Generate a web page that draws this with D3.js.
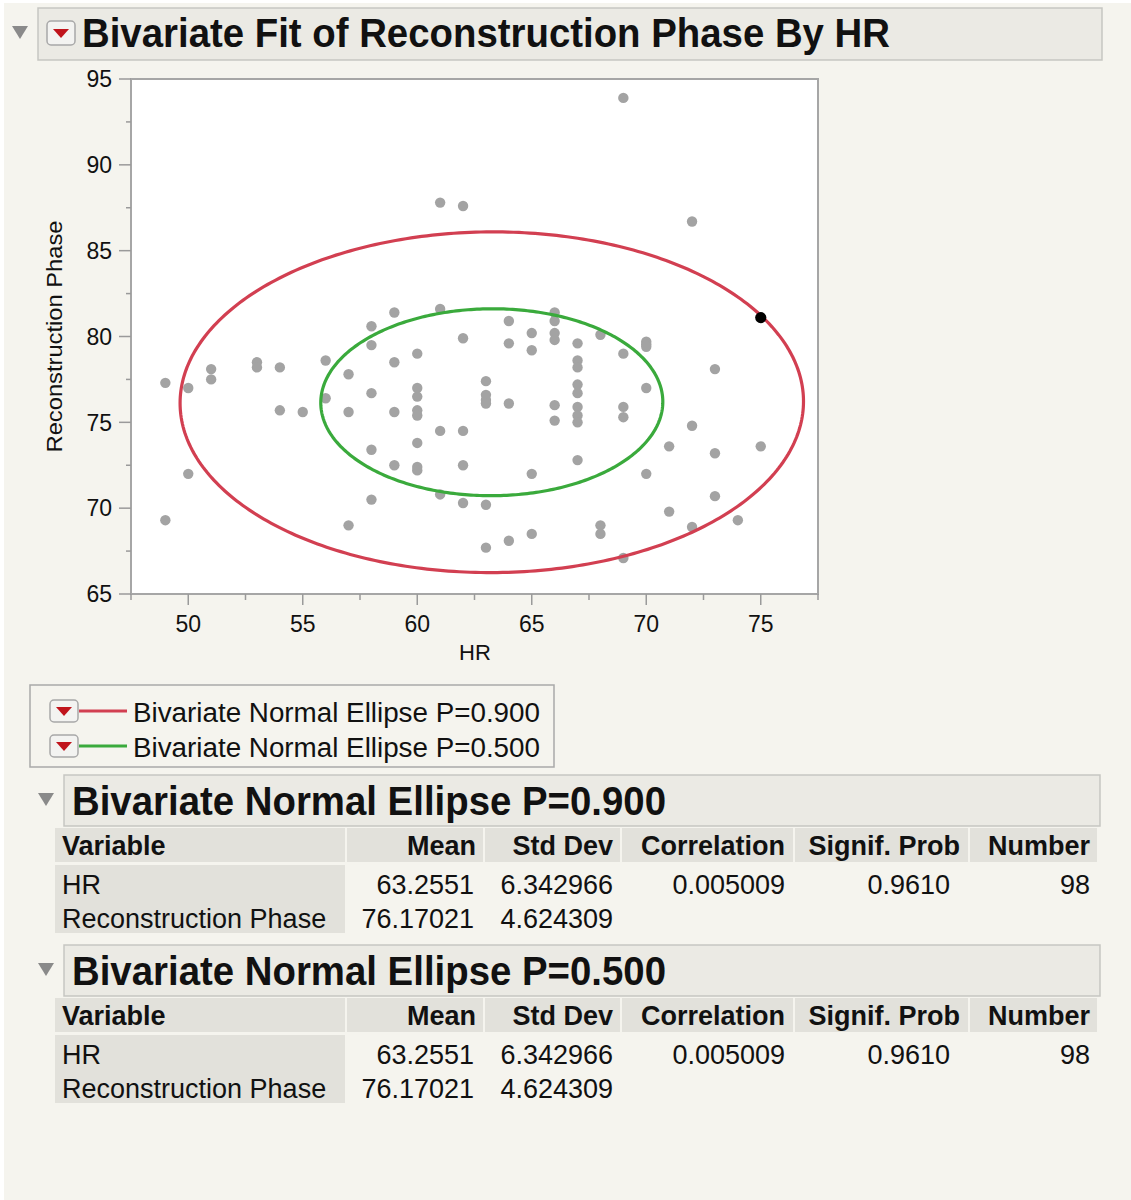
<!DOCTYPE html>
<html>
<head>
<meta charset="utf-8">
<script src="https://cdn.jsdelivr.net/npm/d3@7"></script>
<style>
  html, body { margin: 0; padding: 0; background: #ffffff; }
  svg { display: block; }
  text { font-family: "Liberation Sans", Arial, Helvetica, sans-serif; fill: #111; }
</style>
</head>
<body>
<svg id="chart" width="1131" height="1200"></svg>
<script>
// ---------------- data ----------------
const title = "Bivariate Fit of Reconstruction Phase By HR";
const xLabel = "HR";
const yLabel = "Reconstruction Phase";

const hrValues = [
  49, 49,
  50, 50,
  51, 51,
  53, 53,
  54, 54,
  55,
  56, 56,
  57, 57, 57,
  58, 58, 58, 58, 58,
  59, 59, 59, 59,
  60, 60, 60, 60, 60, 60, 60, 60,
  61, 61, 61, 61,
  62, 62, 62, 62, 62,
  63, 63, 63, 63, 63, 63,
  64, 64, 64, 64,
  65, 65, 65, 65,
  66, 66, 66, 66, 66, 66,
  67, 67, 67, 67, 67, 67, 67, 67, 67,
  68, 68, 68,
  69, 69, 69, 69, 69,
  70, 70, 70, 70, 70,
  71, 71,
  72, 72, 72,
  73, 73, 73,
  74,
  75, 75
];
const rpValues = [
  77.3, 69.3,
  77.0, 72.0,
  78.1, 77.5,
  78.5, 78.2,
  78.2, 75.7,
  75.6,
  78.6, 76.4,
  77.8, 75.6, 69.0,
  80.6, 79.5, 76.7, 73.4, 70.5,
  81.4, 78.5, 75.6, 72.5,
  79.0, 77.0, 76.5, 75.7, 75.4, 73.8, 72.4, 72.2,
  87.8, 81.6, 74.5, 70.8,
  87.6, 79.9, 74.5, 72.5, 70.3,
  77.4, 76.6, 76.3, 76.1, 70.2, 67.7,
  80.9, 79.6, 76.1, 68.1,
  80.2, 79.2, 72.0, 68.5,
  81.4, 80.9, 80.2, 79.8, 76.0, 75.1,
  79.6, 78.6, 78.2, 77.2, 76.7, 75.9, 75.4, 75.0, 72.8,
  80.1, 69.0, 68.5,
  93.9, 79.0, 75.9, 75.3, 67.1,
  79.7, 79.55, 79.4, 77.0, 72.0,
  73.6, 69.8,
  86.7, 74.8, 68.9,
  78.1, 73.2, 70.7,
  69.3,
  81.1, 73.6
];
const selectedRows = [93];   // highlighted (black) row

const xTicks = [50, 55, 60, 65, 70, 75];
const yTicks = [65, 70, 75, 80, 85, 90, 95];

// summary statistics (from the report tables)
const statVariables = ["HR", "Reconstruction Phase"];
const statMeans = [63.2551, 76.17021];
const statStdDevs = [6.342966, 4.624309];
const statMeanText = ["63.2551", "76.17021"];
const statStdText = ["6.342966", "4.624309"];
const correlation = 0.005009;
const correlationText = "0.005009";
const signifProbText = "0.9610";
const numberText = "98";
const tableColumns = ["Variable", "Mean", "Std Dev", "Correlation", "Signif. Prob", "Number"];

const ellipseP = [0.900, 0.500];
const ellipseLabels = ["Bivariate Normal Ellipse P=0.900", "Bivariate Normal Ellipse P=0.500"];
const ellipseColors = ["#d23f51", "#3aaa3c"];

// ---------------- drawing ----------------
const svg = d3.select("#chart");
const bg = "#f5f4ee";
const barFill = "#ebeae4";
const barStroke = "#c6c6c2";
const cellFill = "#e2e1db";

svg.append("rect").attr("x", 4).attr("y", 3).attr("width", 1127).attr("height", 1197).attr("fill", bg);

function disclosure(cx, cy) {
  svg.append("path")
    .attr("d", `M${cx-8},${cy-6} L${cx+8},${cy-6} L${cx},${cy+7} Z`)
    .attr("fill", "#8a8a8a");
}
function dropdown(x, y, w, h) {
  const g = svg.append("g");
  g.append("rect").attr("x", x).attr("y", y).attr("width", w).attr("height", h)
    .attr("rx", 4).attr("fill", "#f3f3f1").attr("stroke", "#a8a8a8").attr("stroke-width", 1.5);
  const cx = x + w / 2, cy = y + h / 2;
  g.append("path").attr("d", `M${cx-8},${cy-4} L${cx+8},${cy-4} L${cx},${cy+5} Z`).attr("fill", "#c0141c");
}

// main header
svg.append("rect").attr("x", 38).attr("y", 8).attr("width", 1064).attr("height", 52)
  .attr("fill", barFill).attr("stroke", barStroke).attr("stroke-width", 1.5);
disclosure(20, 32);
dropdown(47, 21, 28, 24);
svg.append("text").attr("x", 82).attr("y", 47).text(title)
  .style("font-size", "40px").style("font-weight", "bold")
  .attr("textLength", 808).attr("lengthAdjust", "spacingAndGlyphs");

// plot
const plotL = 131, plotR = 818, plotT = 79, plotB = 594;
const x = d3.scaleLinear().domain([47.5, 77.5]).range([plotL, plotR]);
const y = d3.scaleLinear().domain([65, 95]).range([plotB, plotT]);

svg.append("rect").attr("x", plotL).attr("y", plotT).attr("width", plotR - plotL).attr("height", plotB - plotT)
  .attr("fill", "#ffffff").attr("stroke", "#a6a6a6").attr("stroke-width", 2);

const axisColor = "#9a9a9a";
// x axis ticks
const xMinor = d3.range(47.5, 77.51, 2.5).filter(v => !xTicks.includes(v));
const xAxisG = svg.append("g");
xMinor.forEach(v => {
  xAxisG.append("line").attr("x1", x(v)).attr("x2", x(v)).attr("y1", plotB).attr("y2", plotB + 6)
    .attr("stroke", axisColor).attr("stroke-width", 1.5);
});
xTicks.forEach(v => {
  xAxisG.append("line").attr("x1", x(v)).attr("x2", x(v)).attr("y1", plotB).attr("y2", plotB + 11)
    .attr("stroke", axisColor).attr("stroke-width", 1.5);
  xAxisG.append("text").attr("x", x(v)).attr("y", 632).attr("text-anchor", "middle")
    .style("font-size", "23px").text(v);
});
svg.append("text").attr("x", (plotL + plotR) / 2 + 0.5).attr("y", 660).attr("text-anchor", "middle")
  .style("font-size", "22px").text(xLabel);

// y axis ticks
const yMinor = d3.range(67.5, 95, 5);
yMinor.forEach(v => {
  svg.append("line").attr("x1", plotL - 5).attr("x2", plotL).attr("y1", y(v)).attr("y2", y(v))
    .attr("stroke", axisColor).attr("stroke-width", 1.5);
});
yTicks.forEach(v => {
  svg.append("line").attr("x1", plotL - 12).attr("x2", plotL).attr("y1", y(v)).attr("y2", y(v))
    .attr("stroke", axisColor).attr("stroke-width", 1.5);
  svg.append("text").attr("x", 112).attr("y", y(v)).attr("dy", "0.36em").attr("text-anchor", "end")
    .style("font-size", "23px").text(v);
});
svg.append("text").attr("transform", `translate(62,${(plotT + plotB) / 2}) rotate(-90)`)
  .attr("text-anchor", "middle").style("font-size", "22px")
  .attr("textLength", 232).attr("lengthAdjust", "spacingAndGlyphs").text(yLabel);

// points
const pts = hrValues.map((h, i) => ({ hr: h, rp: rpValues[i], sel: selectedRows.includes(i) }));
svg.append("g").selectAll("circle").data(pts.filter(d => !d.sel)).join("circle")
  .attr("cx", d => x(d.hr)).attr("cy", d => y(d.rp)).attr("r", 5.2).attr("fill", "#a3a3a3");

// ellipses (from bivariate normal parameters)
const line = d3.line().x(d => x(d[0])).y(d => y(d[1])).curve(d3.curveLinearClosed);
ellipseP.forEach((p, k) => {
  const c = Math.sqrt(-2 * Math.log(1 - p));
  const ts = d3.range(0, 2 * Math.PI, Math.PI / 180);
  const r = correlation, s = Math.sqrt(1 - r * r);
  const ptsE = ts.map(t => [
    statMeans[0] + c * statStdDevs[0] * Math.cos(t),
    statMeans[1] + c * statStdDevs[1] * (r * Math.cos(t) + s * Math.sin(t))
  ]);
  svg.append("path").attr("d", line(ptsE)).attr("fill", "none")
    .attr("stroke", ellipseColors[k]).attr("stroke-width", 3.2);
});

svg.append("g").selectAll("circle").data(pts.filter(d => d.sel)).join("circle")
  .attr("cx", d => x(d.hr)).attr("cy", d => y(d.rp)).attr("r", 5.6).attr("fill", "#000");

// legend
svg.append("rect").attr("x", 30).attr("y", 685).attr("width", 524).attr("height", 82)
  .attr("fill", bg).attr("stroke", "#a9a9a9").attr("stroke-width", 1.5);
ellipseLabels.forEach((lab, k) => {
  const cy = 711 + k * 35;
  dropdown(50, cy - 11, 28, 22);
  svg.append("line").attr("x1", 79).attr("x2", 127).attr("y1", cy).attr("y2", cy)
    .attr("stroke", ellipseColors[k]).attr("stroke-width", 3);
  svg.append("text").attr("x", 133).attr("y", cy + 11).style("font-size", "27px")
    .attr("textLength", 407).attr("lengthAdjust", "spacingAndGlyphs").text(lab);
});

// tables
const colEdges = [[55, 345], [347, 483], [485, 620], [622, 793], [795, 968], [970, 1097]];
const headerRight = [null, 476, 613, 785, 960, 1090];
function section(top, label) {
  svg.append("rect").attr("x", 64).attr("y", top).attr("width", 1036).attr("height", 51)
    .attr("fill", barFill).attr("stroke", barStroke).attr("stroke-width", 1.5);
  disclosure(46, top + 24);
  svg.append("text").attr("x", 72).attr("y", top + 40).text(label)
    .style("font-size", "40px").style("font-weight", "bold")
    .attr("textLength", 594).attr("lengthAdjust", "spacingAndGlyphs");
  const hTop = top + 53;
  colEdges.forEach(([a, b], i) => {
    svg.append("rect").attr("x", a).attr("y", hTop).attr("width", b - a).attr("height", 34).attr("fill", cellFill);
    const t = svg.append("text").attr("y", hTop + 27).style("font-size", "27px").style("font-weight", "bold")
      .text(tableColumns[i]);
    if (i === 0) t.attr("x", 62); else t.attr("x", headerRight[i]).attr("text-anchor", "end");
  });
  const dTop = hTop + 37;
  svg.append("rect").attr("x", 55).attr("y", dTop).attr("width", 290).attr("height", 68).attr("fill", cellFill);
  statVariables.forEach((v, r) => {
    const base = dTop + 29 + r * 34;
    svg.append("text").attr("x", 62).attr("y", base).style("font-size", "27px").text(v);
    svg.append("text").attr("x", 474).attr("y", base).attr("text-anchor", "end").style("font-size", "27px").text(statMeanText[r]);
    svg.append("text").attr("x", 613).attr("y", base).attr("text-anchor", "end").style("font-size", "27px").text(statStdText[r]);
    if (r === 0) {
      svg.append("text").attr("x", 785).attr("y", base).attr("text-anchor", "end").style("font-size", "27px").text(correlationText);
      svg.append("text").attr("x", 950).attr("y", base).attr("text-anchor", "end").style("font-size", "27px").text(signifProbText);
      svg.append("text").attr("x", 1090).attr("y", base).attr("text-anchor", "end").style("font-size", "27px").text(numberText);
    }
  });
}
section(775, ellipseLabels[0]);
section(945, ellipseLabels[1]);
</script>
</body>
</html>
